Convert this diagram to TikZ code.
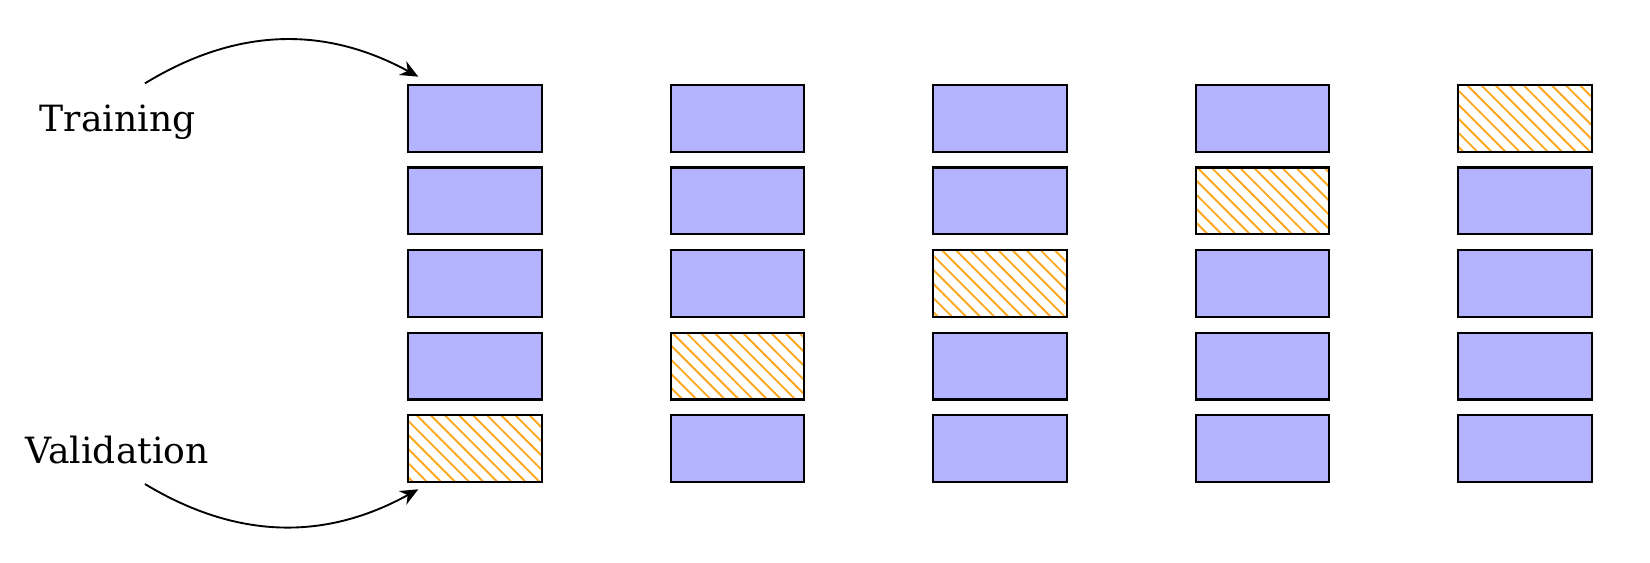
\documentclass[tikz,border=0pt]{standalone}
\usepackage{fontspec}
\setmainfont{DejaVu Serif}
\usetikzlibrary{patterns,arrows.meta}
\definecolor{hatchorange}{RGB}{255,168,30}
\definecolor{foldblue}{RGB}{179,179,255}
\begin{document}
\begin{tikzpicture}[
  foldbox/.style={draw=black, line width=0.45pt, minimum width=1cm, minimum height=0.5cm, inner sep=0pt, outer sep=0pt},
  trainbox/.style={foldbox, fill=foldblue},
  valbox/.style={foldbox, pattern=north west lines, pattern color=hatchorange},
  lbl/.style={font=\fontsize{7.7}{9}\selectfont, inner sep=0pt, anchor=base},
  curvearrow/.style={line width=0.4pt, -{Stealth[length=3.8pt,width=3.3pt]}}
]
\useasboundingbox (0,0) rectangle (12.35,-4.2066);
\foreach \i in {0,...,4}{
  \foreach \j in {0,...,4}{
    \pgfmathsetmacro{\bx}{3.554+1.965*\i}
    \pgfmathsetmacro{\by}{-(0.886+0.618*\j)}
    \pgfmathtruncatemacro{\v}{4-\i}
    \ifnum\j=\v
      \node[valbox] (b\i\j) at (\bx,\by) {};
    \else
      \node[trainbox] (b\i\j) at (\bx,\by) {};
    \fi
  }
}
\node[lbl] (train) at (0.88,-0.986) {Training};
\node[lbl] (valid) at (0.876,-3.468) {Validation};
\coordinate (ts) at (1.085,-0.624);
\coordinate (te) at (3.131,-0.574);
\coordinate (vs) at (1.085,-3.623);
\coordinate (ve) at (3.131,-3.662);
\draw[curvearrow] (ts) to[bend left=30] (te);
\draw[curvearrow] (vs) to[bend right=30] (ve);
\end{tikzpicture}
\end{document}
